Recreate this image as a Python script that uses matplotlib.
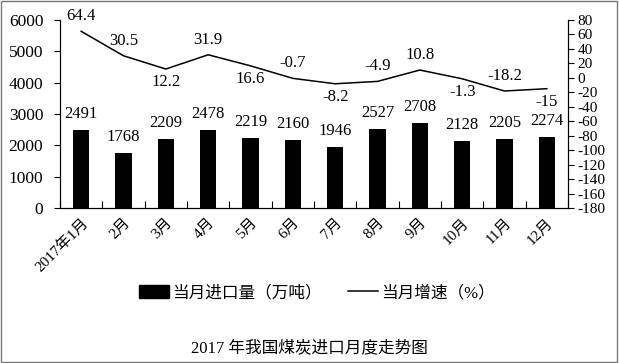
import numpy as np
import matplotlib.pyplot as plt
from matplotlib.patches import Rectangle
from matplotlib.lines import Line2D

plt.rcParams['font.family'] = ['Liberation Serif', 'Noto Sans CJK SC']
plt.rcParams['axes.unicode_minus'] = False

months = ['2017年1月', '2月', '3月', '4月', '5月', '6月', '7月', '8月', '9月', '10月', '11月', '12月']
imports = [2491, 1768, 2209, 2478, 2219, 2160, 1946, 2527, 2708, 2128, 2205, 2274]
growth = [64.4, 30.5, 12.2, 31.9, 16.6, -0.7, -8.2, -4.9, 10.8, -1.3, -18.2, -15]
# where each growth label sits relative to the line
growth_pos = ['up', 'up', 'down', 'up', 'down', 'up', 'down', 'up', 'up', 'down', 'up', 'down']

fig = plt.figure(figsize=(6.19, 3.63), dpi=100)
ax = fig.add_axes([60 / 619, 1 - 208 / 363, 508 / 619, 188 / 363])
ax2 = ax.twinx()

x = np.arange(len(months))
ax.bar(x, imports, width=0.38, color='black')
ax.set_xlim(-0.5, len(months) - 0.5)
ax.set_ylim(0, 6000)
ax.set_yticks(range(0, 6001, 1000))

for xi, v in zip(x, imports):
    ax.annotate(str(v), (xi, v), xytext=(0, 16), textcoords='offset pixels',
                ha='center', va='center', fontsize=12)

ax2.plot(x, growth, color='black', lw=1.1)
ax2.set_ylim(-180, 80)
ax2.set_yticks(range(-180, 81, 20))
for xi, v, p in zip(x, growth, growth_pos):
    dy = 15 if p == 'up' else -13
    ax2.annotate(f'{v:g}', (xi, v), xytext=(0, dy), textcoords='offset pixels',
                 ha='center', va='center', fontsize=12)

ax.set_xticks(x)
ax.set_xticklabels(months, rotation=45, ha='right', va='top', rotation_mode='anchor', fontsize=11)
ax.set_xticks(np.arange(-0.5, len(months), 1), minor=True)
ax.tick_params(axis='x', which='major', length=0, pad=6)
ax.tick_params(axis='x', which='minor', direction='in', length=5, width=0.8)
ax.tick_params(axis='y', direction='out', length=4, width=0.8, labelsize=12.5, pad=8)
ax2.tick_params(axis='y', direction='out', length=4, width=0.8, labelsize=11, pad=3)

ax.spines['top'].set_visible(False)
ax2.spines['top'].set_visible(False)
for s in ['left', 'bottom']:
    ax.spines[s].set_linewidth(0.8)
ax2.spines['right'].set_linewidth(0.8)

handles = [Rectangle((0, 0), 1, 1, color='black'), Line2D([], [], color='black', lw=1.1)]
fig.legend(handles, ['当月进口量（万吨）', '当月增速（%）'], loc='center',
           bbox_to_anchor=(0.512, 0.193), ncol=2, frameon=False, fontsize=12,
           handlelength=1.8, handleheight=0.8, columnspacing=1.6, handletextpad=0.2)

fig.text(0.5, 0.041, '2017 年我国煤炭进口月度走势图', ha='center', va='center', fontsize=12)

fig.patches.append(Rectangle((0.002, 0.003), 0.995, 0.993, transform=fig.transFigure,
                             fill=False, edgecolor='#777777', lw=1))

fig.savefig('out.png', dpi=100)
